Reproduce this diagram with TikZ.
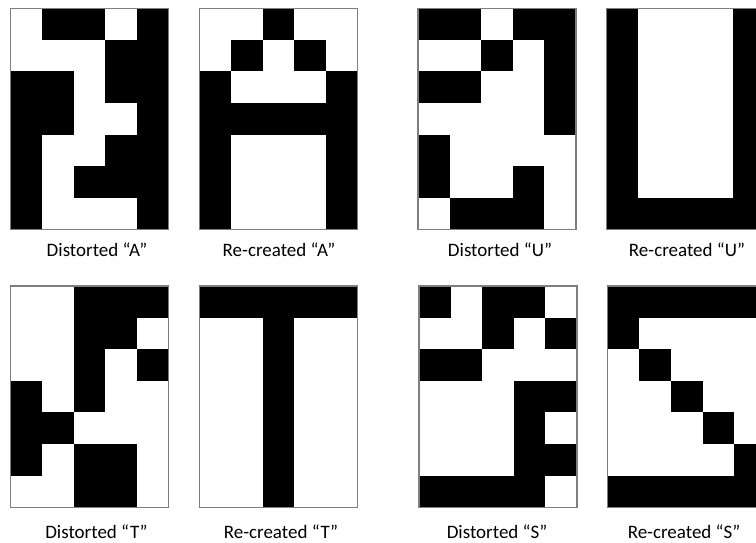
\documentclass[tikz,border=0pt]{standalone}
\usepackage{fontspec}
\setmainfont{Carlito}

\begin{document}
\begin{tikzpicture}[x=1pt, y=-1pt,
    gridCaption/.style={font=\fontsize{19}{23}\selectfont}]
    % Define cell size
    \def\cellSize{31.6}

    \definecolor{borderColour}{HTML}{7F7F7F}
    \definecolor{cellColour}{HTML}{000000}

    % Grid macro: left, top, rows (1 = black cell)
    \def\pixelGrid#1#2#3{%
        \foreach \row [count=\r from 0] in {#3} {
            \foreach \v [count=\c from 0] in \row {
                \ifnum\v=1
                    \fill[cellColour] (#1+\c*\cellSize, #2+\r*\cellSize) rectangle ++(\cellSize, \cellSize);
                \fi
            }
        }
        \draw[borderColour, line width=1.2pt] (#1,#2) rectangle ++(5*\cellSize, 7*\cellSize);
    }

    % Page size
    \clip (0,0) rectangle (756,543);

    % Draw the "A" grids
    \pixelGrid{10.5}{8.3}{{0,1,1,0,1},{0,0,0,1,1},{1,1,0,1,1},{1,1,0,0,1},{1,0,0,1,1},{1,0,1,1,1},{1,0,0,0,1}}
    \pixelGrid{199.3}{8.3}{{0,0,1,0,0},{0,1,0,1,0},{1,0,0,0,1},{1,1,1,1,1},{1,0,0,0,1},{1,0,0,0,1},{1,0,0,0,1}}
    \node[gridCaption] (capDistA) at (97,250) {Distorted “A”};
    \node[gridCaption] (capRecA) at (279,250) {Re-created “A”};

    % Draw the "U" grids
    \pixelGrid{418}{8.3}{{1,1,0,1,1},{0,0,1,0,1},{1,1,0,0,1},{0,0,0,0,1},{1,0,0,0,0},{1,0,0,1,0},{0,1,1,1,0}}
    \pixelGrid{606.7}{8.3}{{1,0,0,0,1},{1,0,0,0,1},{1,0,0,0,1},{1,0,0,0,1},{1,0,0,0,1},{1,0,0,0,1},{1,1,1,1,1}}
    \node[gridCaption] (capDistU) at (500,250) {Distorted “U”};
    \node[gridCaption] (capRecU) at (687,250) {Re-created “U”};

    % Draw the "T" grids
    \pixelGrid{10.5}{286}{{0,0,1,1,1},{0,0,1,1,0},{0,0,1,0,1},{1,0,1,0,0},{1,1,0,0,0},{1,0,1,1,0},{0,0,1,1,0}}
    \pixelGrid{199.5}{286}{{1,1,1,1,1},{0,0,1,0,0},{0,0,1,0,0},{0,0,1,0,0},{0,0,1,0,0},{0,0,1,0,0},{0,0,1,0,0}}
    \node[gridCaption] (capDistT) at (96.5,532) {Distorted “T”};
    \node[gridCaption] (capRecT) at (281,532) {Re-created “T”};

    % Draw the "S" grids
    \pixelGrid{419}{286}{{1,0,1,1,0},{0,0,1,0,1},{1,1,0,0,0},{0,0,0,1,1},{0,0,0,1,0},{0,0,0,1,1},{1,1,1,1,0}}
    \pixelGrid{607.7}{286}{{1,1,1,1,1},{1,0,0,0,0},{0,1,0,0,0},{0,0,1,0,0},{0,0,0,1,0},{0,0,0,0,1},{1,1,1,1,1}}
    \node[gridCaption] (capDistS) at (497,532) {Distorted “S”};
    \node[gridCaption] (capRecS) at (684,532) {Re-created “S”};

\end{tikzpicture}
\end{document}
